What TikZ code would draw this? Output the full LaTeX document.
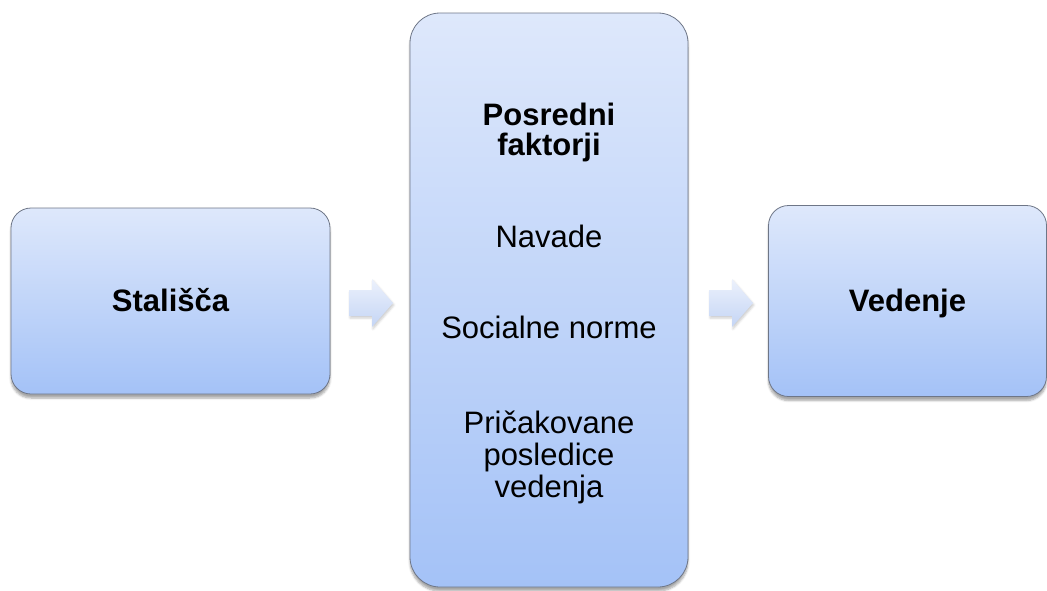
\documentclass[tikz,border=0pt]{standalone}
\usepackage{fontspec}
\setmainfont{Liberation Sans}
\usetikzlibrary{shadows.blur}
\definecolor{boxtop}{RGB}{222,232,251}
\definecolor{boxbot}{RGB}{164,194,247}
\definecolor{boxline}{RGB}{110,118,135}
\definecolor{arrtop}{RGB}{236,241,252}
\definecolor{arrbot}{RGB}{196,213,245}
\tikzset{
  box/.style={draw=boxline, line width=0.8pt, top color=boxtop, bottom color=boxbot,
    blur shadow={shadow xshift=0pt, shadow yshift=-4pt, shadow opacity=35, shadow blur steps=6}},
  lbl/.style={font=\fontsize{31}{32}\selectfont, align=center, inner sep=0pt, text=black},
  blbl/.style={lbl, font=\fontsize{31}{30}\selectfont\bfseries},
  bigarrow/.style={top color=arrtop, bottom color=arrbot, draw=none,
    blur shadow={shadow xshift=1pt, shadow yshift=-2pt, shadow opacity=20, shadow blur steps=4}}
}
\begin{document}
\begin{tikzpicture}[x=1pt,y=-1pt]
\useasboundingbox (0,0) rectangle (1047,590);
\node[box, rounded corners=20pt, minimum width=319pt, minimum height=186pt] (a) at (170.5,301) {};
\node[box, rounded corners=30pt, minimum width=278pt, minimum height=574pt] (m) at (549,300) {};
\node[box, rounded corners=20pt, minimum width=278pt, minimum height=191pt] (c) at (907.5,301) {};
\node[blbl, anchor=base] (ta) at (a.center |- 0,311) {Stališča};
\node[blbl, anchor=base] (tc) at (c.center |- 0,311) {Vedenje};
\node[blbl, anchor=base] (t1) at (m.center |- 0,155) {Posredni\\faktorji};
\node[lbl, anchor=base] (t2) at (m.center |- 0,247) {Navade};
\node[lbl, anchor=base] (t3) at (m.center |- 0,338) {Socialne norme};
\node[lbl, anchor=base] (t4) at (m.center |- 0,497) {Pričakovane\\posledice\\vedenja};
\path[bigarrow] (349,290) -- (372,290) -- (372,279) -- (393,303) -- (372,327) -- (372,316) -- (349,316) -- cycle;
\path[bigarrow] (709,290) -- (732,290) -- (732,279) -- (753,303) -- (732,327) -- (732,316) -- (709,316) -- cycle;
\end{tikzpicture}
\end{document}
